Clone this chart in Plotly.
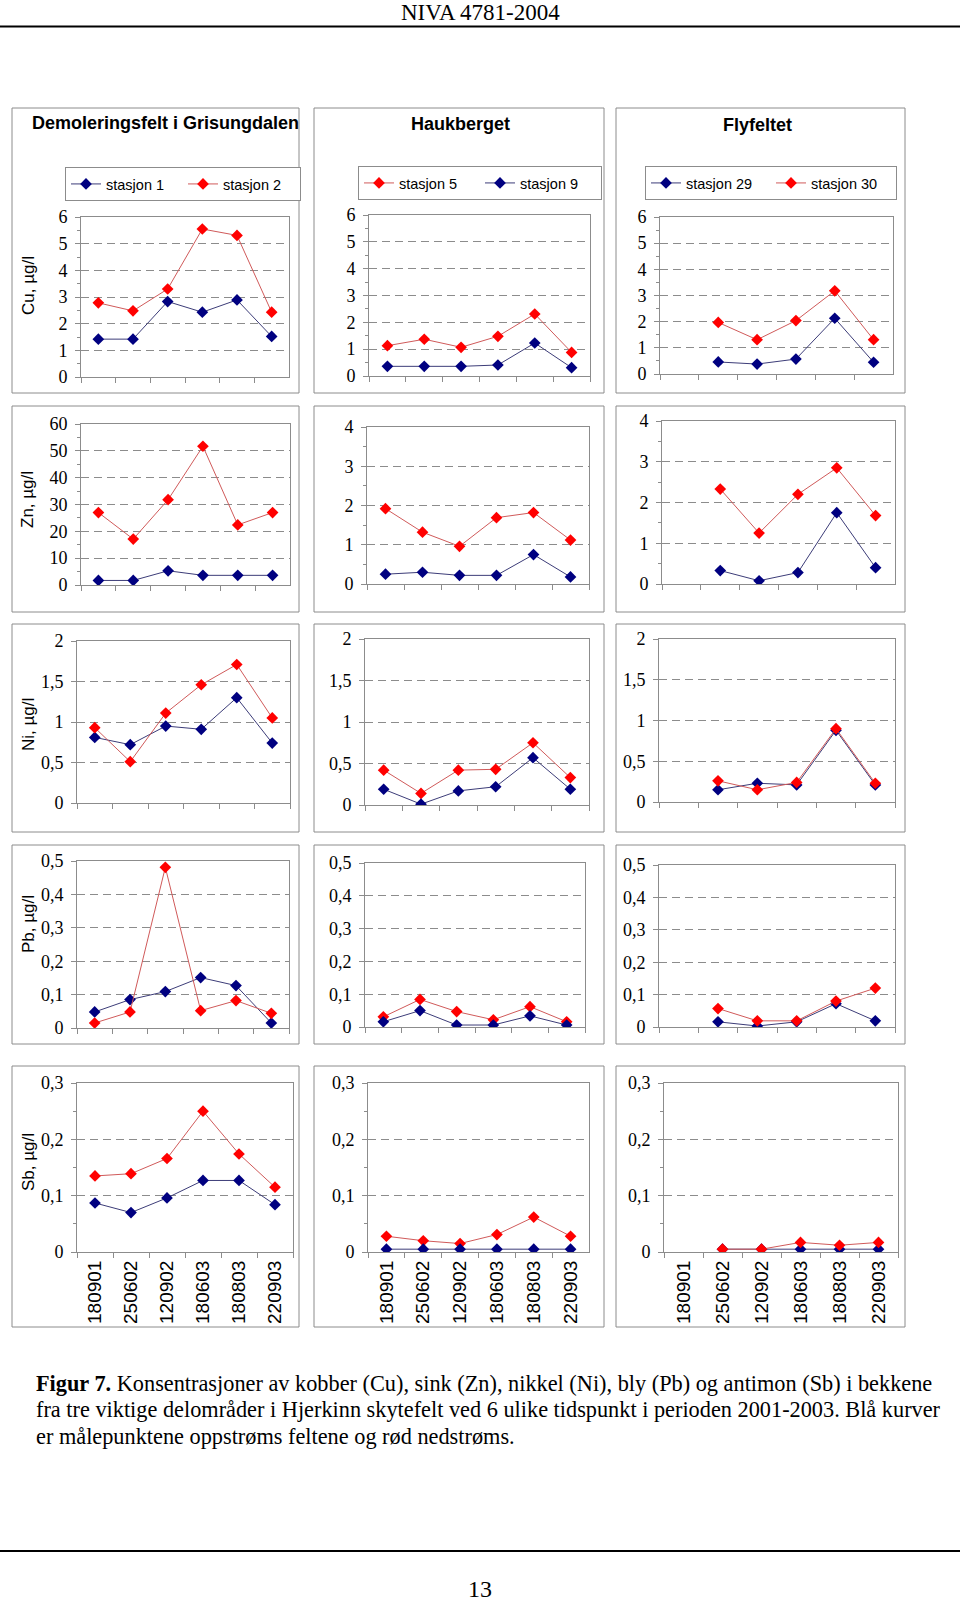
import plotly.graph_objects as go

# ---------------- data ----------------
dates = ["180901", "250602", "120902", "180603", "180803", "220903"]

# Demoleringsfelt i Grisungdalen: stasjon 1 (blue), stasjon 2 (red)
cu_st1 = [1.42, 1.42, 2.83, 2.43, 2.89, 1.52]
cu_st2 = [2.78, 2.48, 3.30, 5.55, 5.31, 2.43]
zn_st1 = [1.7, 1.7, 5.3, 3.6, 3.6, 3.6]
zn_st2 = [27.0, 17.1, 31.8, 51.7, 22.4, 27.0]
ni_st1 = [0.81, 0.72, 0.95, 0.91, 1.30, 0.74]
ni_st2 = [0.93, 0.51, 1.11, 1.46, 1.71, 1.05]
pb_st1 = [0.048, 0.085, 0.109, 0.151, 0.127, 0.015]
pb_st2 = [0.015, 0.048, 0.481, 0.052, 0.082, 0.044]
sb_st1 = [0.087, 0.070, 0.096, 0.127, 0.127, 0.084]
sb_st2 = [0.135, 0.139, 0.166, 0.250, 0.174, 0.115]

# Haukberget: stasjon 5 (red), stasjon 9 (blue)
cu_st5 = [1.13, 1.37, 1.07, 1.48, 2.31, 0.88]
cu_st9 = [0.36, 0.36, 0.36, 0.41, 1.23, 0.31]
zn_st5 = [1.92, 1.32, 0.96, 1.69, 1.82, 1.12]
zn_st9 = [0.25, 0.30, 0.22, 0.22, 0.75, 0.18]
ni_st5 = [0.42, 0.14, 0.42, 0.43, 0.75, 0.33]
ni_st9 = [0.19, 0.01, 0.17, 0.22, 0.57, 0.19]
pb_st5 = [0.031, 0.084, 0.047, 0.022, 0.062, 0.016]
pb_st9 = [0.016, 0.050, 0.006, 0.006, 0.034, 0.006]
sb_st5 = [0.028, 0.020, 0.015, 0.031, 0.062, 0.028]
sb_st9 = [0.005, 0.005, 0.005, 0.005, 0.005, 0.005]

# Flyfeltet: stasjon 29 (blue), stasjon 30 (red)
cu_st29 = [None, 0.46, 0.38, 0.57, 2.13, 0.45]
cu_st30 = [None, 1.97, 1.31, 2.04, 3.18, 1.31]
zn_st29 = [None, 0.33, 0.08, 0.28, 1.75, 0.40]
zn_st30 = [None, 2.33, 1.25, 2.20, 2.85, 1.68]
ni_st29 = [None, 0.15, 0.23, 0.21, 0.88, 0.21]
ni_st30 = [None, 0.26, 0.15, 0.24, 0.90, 0.23]
pb_st29 = [None, 0.016, 0.003, 0.016, 0.072, 0.019]
pb_st30 = [None, 0.057, 0.019, 0.019, 0.080, 0.120]
sb_st29 = [None, 0.005, 0.005, 0.005, 0.005, 0.005]
sb_st30 = [None, 0.005, 0.005, 0.017, 0.012, 0.017]

area_titles = ["Demoleringsfelt i Grisungdalen", "Haukberget", "Flyfeltet"]
metal_titles = ["Cu, µg/l", "Zn, µg/l", "Ni, µg/l", "Pb, µg/l", "Sb, µg/l"]

# ---------------- styling / layout helpers ----------------
W, H = 960, 1601
BLUE_M, BLUE_L = "#000080", "#3c3c78"
RED_M, RED_L = "#ff0000", "#d05a5a"
GRAY = "#8c8c8c"
SERIF = "Liberation Serif, Times New Roman, serif"
SANS = "Liberation Sans, Arial, sans-serif"


def xdom(a, b):
    return [a / W, b / W]


def ydom(top, bottom):
    return [1 - bottom / H, 1 - top / H]


# plot areas in pixels (left, right, top, bottom) per (row, col)
areas = {
    (0, 0): (81, 289, 217, 377), (0, 1): (369, 590, 215, 376), (0, 2): (660, 893, 217, 374),
    (1, 0): (81, 290, 424, 585), (1, 1): (367, 589, 427, 584), (1, 2): (662, 895, 421, 584),
    (2, 0): (77, 290, 641, 803), (2, 1): (365, 589, 639, 805), (2, 2): (659, 895, 639, 802),
    (3, 0): (77, 289, 861, 1028), (3, 1): (365, 585, 863, 1027), (3, 2): (659, 895, 865, 1027),
    (4, 0): (77, 293, 1083, 1252), (4, 1): (368, 589, 1083, 1252), (4, 2): (664, 898, 1083, 1252),
}
box_rows = [(108, 393), (406, 612), (624, 832), (845, 1044), (1066, 1327)]
box_cols = [(12, 299), (314, 604), (616, 905)]

# y-axis settings per (row, col): (max, dtick, minor dtick or None)
yset = {}
for c in range(3):
    yset[(0, c)] = (6, 1, 0.5)
    yset[(2, c)] = (2, 0.5, None)
    yset[(3, c)] = (0.5, 0.1, None)
    yset[(4, c)] = (0.3, 0.1, 0.05)
yset[(1, 0)] = (60, 10, 5)
yset[(1, 1)] = (4, 1, 0.5)
yset[(1, 2)] = (4, 1, 0.5)

# series per column: list of (name, blue?, data per row)
columns = [
    [("stasjon 1", True, [cu_st1, zn_st1, ni_st1, pb_st1, sb_st1]),
     ("stasjon 2", False, [cu_st2, zn_st2, ni_st2, pb_st2, sb_st2])],
    [("stasjon 5", False, [cu_st5, zn_st5, ni_st5, pb_st5, sb_st5]),
     ("stasjon 9", True, [cu_st9, zn_st9, ni_st9, pb_st9, sb_st9])],
    [("stasjon 29", True, [cu_st29, zn_st29, ni_st29, pb_st29, sb_st29]),
     ("stasjon 30", False, [cu_st30, zn_st30, ni_st30, pb_st30, sb_st30])],
]
legend_ids = ["legend", "legend2", "legend3"]

fig = go.Figure()
layout = {}
n = 0
for r in range(5):
    for c in range(3):
        n += 1
        xa = "x" if n == 1 else f"x{n}"
        ya = "y" if n == 1 else f"y{n}"
        for name, is_blue, rows in columns[c]:
            fig.add_trace(go.Scatter(
                x=dates, y=rows[r], name=name, mode="lines+markers",
                xaxis=xa, yaxis=ya,
                line=dict(color=BLUE_L if is_blue else RED_L, width=1),
                marker=dict(symbol="diamond", size=9,
                            color=BLUE_M if is_blue else RED_M, line=dict(width=0)),
                showlegend=(r == 0), legend=legend_ids[c],
            ))
        L, R, T, B = areas[(r, c)]
        ymax, dt, mdt = yset[(r, c)]
        xkey = "xaxis" if n == 1 else f"xaxis{n}"
        ykey = "yaxis" if n == 1 else f"yaxis{n}"
        layout[xkey] = dict(
            domain=xdom(L, R), anchor=ya, type="category",
            categoryorder="array", categoryarray=dates, range=[-0.5, 5.5],
            tickson="boundaries", ticks="outside", ticklen=5, tickcolor=GRAY,
            showline=True, linecolor=GRAY, linewidth=1, mirror=True,
            showgrid=False, showticklabels=(r == 4), tickangle=-90,
            tickfont=dict(family=SANS, size=19, color="black"),
            automargin=False,
        )
        yd = dict(
            domain=ydom(T, B), anchor=xa, range=[0, ymax], tick0=0, dtick=dt,
            ticks="outside", ticklen=5, tickcolor=GRAY,
            showline=True, linecolor=GRAY, linewidth=1, mirror=True,
            showgrid=True, gridcolor=GRAY, gridwidth=1, griddash="8px,5px",
            zeroline=False, ticklabelstandoff=4, automargin=False,
            tickfont=dict(family=SERIF, size=18, color="black"),
        )
        if mdt:
            yd["minor"] = dict(dtick=mdt, tick0=0, ticks="outside", ticklen=3,
                               tickcolor=GRAY, showgrid=False)
        layout[ykey] = yd

shapes = []
for (bt, bb) in box_rows:
    for (bl, br) in box_cols:
        shapes.append(dict(type="rect", xref="paper", yref="paper",
                           x0=bl / W, x1=br / W, y0=1 - bb / H, y1=1 - bt / H,
                           line=dict(color=GRAY, width=1), layer="below"))
# page header / footer rules
shapes.append(dict(type="line", xref="paper", yref="paper", x0=0, x1=1,
                   y0=1 - 26.5 / H, y1=1 - 26.5 / H, line=dict(color="black", width=2)))
shapes.append(dict(type="line", xref="paper", yref="paper", x0=0, x1=1,
                   y0=1 - 1551 / H, y1=1 - 1551 / H, line=dict(color="black", width=2)))

ann = []


def add_text(text, x, y, size, family, xanchor="center", bold=False, angle=0):
    ann.append(dict(text=f"<b>{text}</b>" if bold else text, x=x / W, y=1 - y / H,
                    xref="paper", yref="paper", showarrow=False,
                    xanchor=xanchor, yanchor="middle", textangle=angle,
                    font=dict(family=family, size=size, color="black")))


add_text("NIVA 4781-2004", 480, 12, 23, SERIF)
add_text("13", 480, 1589, 24, SERIF)
title_pos = [(165, 123), (460, 124), (757, 125)]
for t, (tx, ty) in zip(area_titles, title_pos):
    add_text(t, tx, ty, 18, SANS, bold=True)
metal_y = [286, 500, 725, 924, 1162]
for t, my in zip(metal_titles, metal_y):
    add_text(t, 28, my, 17, SANS, angle=-90)

cap = ["<b>Figur 7.</b> Konsentrasjoner av kobber (Cu), sink (Zn), nikkel (Ni), bly (Pb) og antimon (Sb) i bekkene",
       "fra tre viktige delområder i Hjerkinn skytefelt ved 6 ulike tidspunkt i perioden 2001-2003. Blå kurver",
       "er målepunktene oppstrøms feltene og rød nedstrøms."]
for i, line in enumerate(cap):
    add_text(line, 34, 1383 + i * 26.5, 22.3, SERIF, xanchor="left")

legend_boxes = [(65, 167, 72), (358, 166, 76), (645, 166, 80)]
for lid, (lx, ly, ew) in zip(legend_ids, legend_boxes):
    layout[lid] = dict(x=lx / W, y=1 - ly / H, xanchor="left", yanchor="top",
                       orientation="h", bordercolor=GRAY, borderwidth=1,
                       bgcolor="white", font=dict(family=SANS, size=14.5, color="black"),
                       itemwidth=30, entrywidth=ew, traceorder="normal", itemclick=False)

fig.update_layout(
    width=W, height=H, margin=dict(l=0, r=0, t=0, b=0, pad=0, autoexpand=False),
    paper_bgcolor="white", plot_bgcolor="white",
    separators=", ", shapes=shapes, annotations=ann, **layout,
)
fig.write_html(
    "out.html",
    config={"displayModeBar": False},
    post_script="document.body.style.margin='0';document.body.style.overflow='hidden';",
)
